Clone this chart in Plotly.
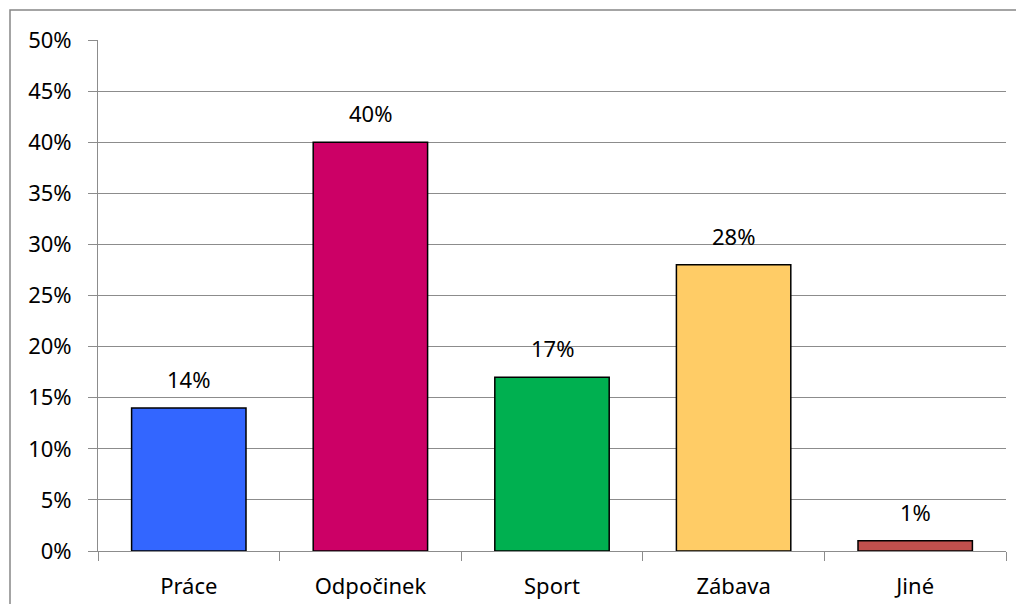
import plotly.graph_objects as go

categories = ["Práce", "Odpočinek", "Sport", "Zábava", "Jiné"]
values = [0.14, 0.40, 0.17, 0.28, 0.01]
colors = ["#3366FF", "#CC0066", "#00B050", "#FFCC66", "#C0504D"]
y_ticks = [0, 0.05, 0.10, 0.15, 0.20, 0.25, 0.30, 0.35, 0.40, 0.45, 0.50]

GRID = "#8c8c8c"
FONT = "Noto Sans"
FS = 22

# page body has an 8px margin; keep the figure inside the window (no scrollbars)
W, H = 1008, 596
L, R, T, B = 90, 10, 32, 53
pw, ph = W - L - R, H - T - B

fig = go.Figure()
fig.add_trace(
    go.Bar(
        x=categories,
        y=values,
        marker=dict(color=colors, line=dict(color="#000000", width=1.5)),
        width=0.63,
        hoverinfo="skip",
    )
)

# data labels above the bars
for c, v in zip(categories, values):
    fig.add_annotation(
        x=c,
        y=v,
        text=f"{v:.0%}",
        showarrow=False,
        yanchor="bottom",
        yshift=12,
        font=dict(size=FS, family=FONT, color="#000000"),
    )

fig.update_layout(
    template=None,
    width=W,
    height=H,
    paper_bgcolor="white",
    plot_bgcolor="white",
    font=dict(family=FONT, color="#000000", size=FS),
    margin=dict(l=L, r=R, t=T, b=B, pad=0),
    showlegend=False,
)
fig.update_xaxes(
    showgrid=False,
    showline=True,
    linecolor=GRID,
    linewidth=1,
    ticks="outside",
    tickson="boundaries",
    ticklen=9,
    tickcolor=GRID,
    ticklabelstandoff=16,
    tickfont=dict(size=FS, family=FONT),
    zeroline=False,
)
fig.update_yaxes(
    range=[0, 0.5],
    tickvals=y_ticks,
    ticktext=[f"{v:.0%}" for v in y_ticks],
    showgrid=True,
    gridcolor=GRID,
    gridwidth=1,
    showline=True,
    linecolor=GRID,
    linewidth=1,
    ticks="outside",
    ticklen=9,
    tickcolor=GRID,
    ticklabelstandoff=12,
    zeroline=False,
    tickfont=dict(size=FS, family=FONT),
)

# outer chart-area border (right and bottom edges fall outside the view)
fig.add_shape(
    type="rect",
    xref="paper",
    yref="paper",
    x0=(2 - L) / pw,
    x1=(W + 20 - L) / pw,
    y0=(H - B - (H + 20)) / ph,
    y1=(H - B - 2) / ph,
    line=dict(color="#868686", width=1.5),
    fillcolor="rgba(0,0,0,0)",
    layer="below",
)

fig.write_html("out.html")
